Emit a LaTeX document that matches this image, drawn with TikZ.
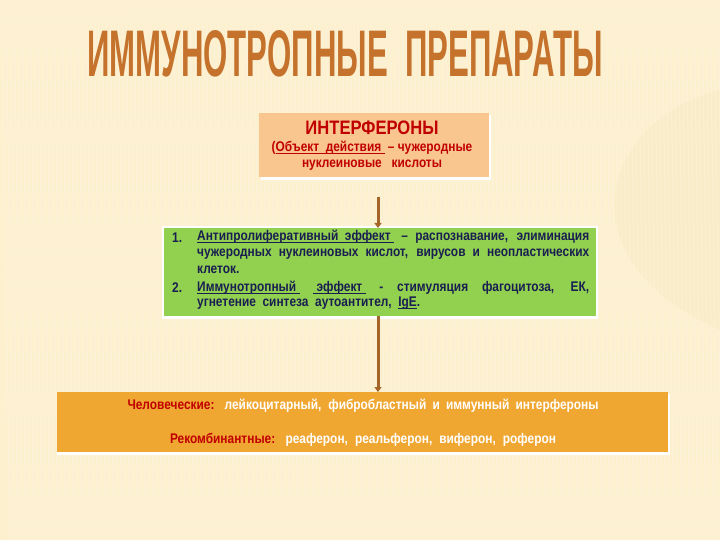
\documentclass[tikz,border=0pt]{standalone}
\usepackage{fontspec}
\usepackage{graphicx}
\setmainfont{Liberation Sans}
\newfontfamily\nar[FakeStretch=0.85]{Liberation Sans}
\usetikzlibrary{arrows.meta}
\definecolor{bg}{RGB}{252,240,207}
\definecolor{bgdark}{RGB}{240,220,170}
\definecolor{titlec}{RGB}{196,114,44}
\definecolor{peach}{RGB}{249,198,143}
\definecolor{greenf}{RGB}{146,208,80}
\definecolor{orangef}{RGB}{240,167,50}
\definecolor{redt}{RGB}{192,0,0}
\definecolor{navy}{RGB}{25,30,80}
\definecolor{arrowc}{RGB}{165,100,40}
\newcommand{\myul}[1]{\underline{\smash{#1}}}
\tikzset{
  panel/.style={inner sep=0pt, outer sep=0pt, draw=none},
  shadowbox/.style={fill=white},
  conn/.style={draw=arrowc, line width=3pt, -{Triangle[length=5pt,width=7pt]}},
  txt/.style={inner sep=0pt, font=\nar\bfseries\fontsize{14}{16}\selectfont},
}
\begin{document}
\begin{tikzpicture}[x=1pt,y=-1pt]
\useasboundingbox (0,0) rectangle (720,540);
\fill[bg] (0,0) rectangle (720,540);
\fill[bgdark, opacity=0.18] (720,90) .. controls (600,120) and (560,260) .. (720,330) -- cycle;
\foreach \x in {2,6,...,720} \draw[white, opacity=0.18, line width=1.2pt] (\x,0) -- (\x+8,540);
% title
\node[text=titlec, inner sep=0pt, font=\bfseries] (title) at (345,54) {\resizebox{515pt}{46pt}{ИММУНОТРОПНЫЕ\ \ ПРЕПАРАТЫ}};
% box 1
\fill[shadowbox] (261,115) rectangle (491,180);
\node[panel, fill=peach, minimum width=230pt, minimum height=64pt] (b1) at (374,145) {};
\node[txt, text=redt, font=\nar\bfseries\fontsize{19.5}{22}\selectfont] (b1t) at (372,128) {ИНТЕРФЕРОНЫ};
\node[txt, text=redt] (b1l2) at (372,148) {(\myul{Объект\ \ действия\ }\ –\ чужеродные};
\node[txt, text=redt] (b1l3) at (372,165) {нуклеиновые\ \ \ кислоты};
% green box
\fill[shadowbox] (162,226) rectangle (598,319);
\node[panel, fill=greenf, minimum width=432pt, minimum height=88pt] (b2) at (380,272) {};
\node[txt, text=navy, anchor=west] (n1) at (172,238) {1.};
\node[txt, text=navy, anchor=west] (l1) at (197,238) {\makebox[392pt][s]{\myul{Антипролиферативный\ \ эффект\ } – распознавание, элиминация}};
\node[txt, text=navy, anchor=west] (l2) at (197,254) {\makebox[392pt][s]{чужеродных нуклеиновых кислот, вирусов и неопластических}};
\node[txt, text=navy, anchor=west] (l3) at (197,270) {клеток.};
\node[txt, text=navy, anchor=west] (n2) at (172,288) {2.};
\node[txt, text=navy, anchor=west] (l4) at (197,288) {\makebox[392pt][s]{\myul{Иммунотропный\ }\ \myul{\ эффект\ } - стимуляция фагоцитоза, ЕК,}};
\node[txt, text=navy, anchor=west] (l5) at (197,304) {угнетение\ \ синтеза\ \ аутоантител,\ \ \myul{IgE}.};
% orange box
\fill[shadowbox] (57,394) rectangle (670,455);
\node[panel, fill=orangef, minimum width=611pt, minimum height=60pt] (b3) at (362.5,422) {};
\node[txt] (o1) at (363,406) {\makebox[471pt][s]{\textcolor{redt}{Человеческие:} \textcolor{white}{лейкоцитарный, фибробластный и иммунный интерфероны}}};
\node[txt] (o2) at (363,440) {\makebox[386pt][s]{\textcolor{redt}{Рекомбинантные:} \textcolor{white}{реаферон, реальферон, виферон, роферон}}};
% connectors
\coordinate (a1s) at (378,197);
\draw[conn] (a1s) -- (a1s |- b2.north);
\draw[conn] (b2.south -| a1s) -- (a1s |- b3.north);
\end{tikzpicture}
\end{document}
